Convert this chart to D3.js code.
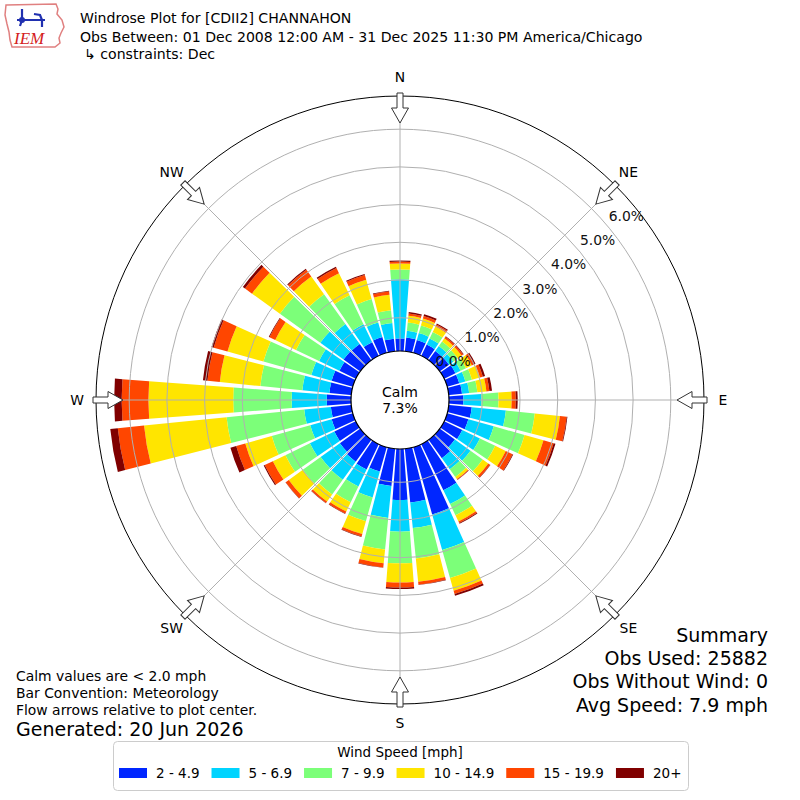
<!DOCTYPE html>
<html><head><meta charset="utf-8">
<script src="https://cdn.jsdelivr.net/npm/d3@7"></script>
<style>
body{margin:0;background:#fff}
svg{display:block}
text{font-family:"DejaVu Sans",sans-serif;fill:#000}
</style>
</head><body>
<svg id="c" width="800" height="800"></svg>
<script>
// ---------------- DATA ----------------
const directions = [0,10,20,30,40,50,60,70,80,90,100,110,120,130,140,150,160,170,
                    180,190,200,210,220,230,240,250,260,270,280,290,300,310,320,330,340,350];
const speedBins = ["2 - 4.9","5 - 6.9","7 - 9.9","10 - 14.9","15 - 19.9","20+"];
// frequency (%) per direction for each speed bin
const bin2to5   = [0.45,0.48,0.47,0.45,0.42,0.42,0.45,0.45,0.47,0.50,0.73,0.70,0.65,0.61,0.72,1.47,1.97,1.55,
                   1.47,1.11,0.79,0.86,0.83,0.78,0.75,0.70,0.66,0.76,0.70,0.70,0.60,0.66,0.65,0.52,0.55,0.45];
const bin5to7   = [1.57,0.18,0.19,0.18,0.16,0.14,0.15,0.17,0.19,0.48,0.91,0.70,0.52,0.51,0.36,0.41,0.98,0.68,
                   0.84,0.85,0.71,0.50,0.59,0.63,0.72,0.59,0.71,0.93,0.72,0.56,0.60,0.76,0.65,0.53,0.40,0.42];
const bin7to10  = [0.26,0.22,0.21,0.19,0.15,0.15,0.16,0.18,0.22,0.45,0.77,0.85,0.45,0.40,0.25,0.33,0.77,0.81,
                   0.84,0.84,0.66,0.47,0.48,0.58,0.72,1.06,2.07,1.55,1.12,1.32,0.68,1.32,0.97,0.85,0.65,0.34];
const bin10to15 = [0.16,0.18,0.19,0.16,0.10,0.12,0.17,0.22,0.24,0.35,0.67,0.52,0.31,0.18,0.07,0.18,0.35,0.62,
                   0.51,0.37,0.35,0.27,0.23,0.46,0.37,0.73,2.20,2.25,1.08,0.99,0.61,0.91,0.58,0.65,0.53,0.41];
const bin15to20 = [0.05,0.06,0.07,0.06,0.05,0.05,0.06,0.08,0.08,0.11,0.18,0.28,0.20,0.06,0.02,0.05,0.09,0.08,
                   0.13,0.11,0.07,0.06,0.05,0.10,0.24,0.25,0.70,0.71,0.33,0.38,0.17,0.23,0.22,0.15,0.13,0.09];
const bin20plus = [0.03,0.04,0.05,0.03,0.02,0.02,0.05,0.06,0.07,0.05,0.02,0.05,0.02,0.01,0.01,0.02,0.05,0.01,
                   0.04,0.01,0.01,0.01,0.01,0.01,0.03,0.16,0.20,0.20,0.12,0.06,0.02,0.07,0.03,0.04,0.03,0.02];
const binValues = [bin2to5, bin5to7, bin7to10, bin10to15, bin15to20, bin20plus];
const ringTicks = [0,1,2,3,4,5,6];
const ringTickLabels = ["0.0%","1.0%","2.0%","3.0%","4.0%","5.0%","6.0%"];
const compassLabels = ["N","NE","E","SE","S","SW","W","NW"];
const compassBearings = [0,45,90,135,180,225,270,315];
const calmPercent = "7.3%";
const titleLines = ["Windrose Plot for [CDII2] CHANNAHON",
  "Obs Between: 01 Dec 2008 12:00 AM - 31 Dec 2025 11:30 PM America/Chicago",
  "\u21B3 constraints: Dec"];
const noteLines = ["Calm values are < 2.0 mph","Bar Convention: Meteorology","Flow arrows relative to plot center."];
const generatedLine = "Generated: 20 Jun 2026";
const summaryLines = ["Summary","Obs Used: 25882","Obs Without Wind: 0","Avg Speed: 7.9 mph"];
const legendTitle = "Wind Speed [mph]";

// ---------------- STYLE ----------------
const colors = ["#0026ff","#00d4ff","#7cff79","#ffe500","#ff4600","#800000"];

// ---------------- DRAW ----------------
const svg = d3.select("#c");
const cx = 400, cy = 400;
const r = d3.scaleLinear().domain([0,6]).range([44.6,270.8]);
const frameR = 304, calmR = 49;
const toRad = d3.scaleLinear().domain([0,360]).range([0,2*Math.PI]);
const half = toRad(8.6)/2;

const g = svg.append("g").attr("transform",`translate(${cx},${cy})`);

const rows = directions.map((d,i)=>{const o={dir:d}; speedBins.forEach((b,j)=>o[b]=binValues[j][i]); return o;});
const series = d3.stack().keys(speedBins)(rows);
const arc = d3.arc();
series.forEach((s,j)=>{
  g.append("g").selectAll("path").data(s).join("path")
    .attr("d", d=>arc({innerRadius:r(d[0]), outerRadius:r(d[1]),
       startAngle:toRad(d.data.dir)-half, endAngle:toRad(d.data.dir)+half}))
    .attr("fill", colors[j]);
});

// grid on top
const grid = g.append("g").attr("fill","none").attr("stroke","#b0b0b0").attr("stroke-width",1);
grid.selectAll("circle").data(ringTicks).join("circle").attr("r", d=>r(d));
grid.selectAll("line").data(compassBearings).join("line")
  .attr("x1", d=>r(0)*Math.sin(toRad(d))).attr("y1", d=>-r(0)*Math.cos(toRad(d)))
  .attr("x2", d=>frameR*Math.sin(toRad(d))).attr("y2", d=>-frameR*Math.cos(toRad(d)));

g.append("circle").attr("r",frameR).attr("fill","none").attr("stroke","#000").attr("stroke-width",1);

// calm circle
g.append("circle").attr("r",calmR).attr("fill","#fff").attr("stroke","#000").attr("stroke-width",1.2);
g.append("text").attr("x",0).attr("y",-3).attr("text-anchor","middle").style("font-size","14px").text("Calm");
g.append("text").attr("x",0).attr("y",13).attr("text-anchor","middle").style("font-size","14px").text(calmPercent);

// ring labels
const lb = toRad(50);
g.selectAll("text.rl").data(ringTicks).join("text").attr("class","rl")
  .attr("x", d=>r(d)*Math.sin(lb)+19).attr("y", d=>-r(d)*Math.cos(lb)-10)
  .attr("text-anchor","middle").attr("dominant-baseline","central")
  .style("font-size","13.9px").style("fill","#111")
  .text((d,i)=>ringTickLabels[i]);

// compass arrows
const arrowPts = [[-3,-307],[-3,-292],[-8.5,-292],[0,-277],[8.5,-292],[3,-292],[3,-307]];
g.selectAll("polygon.ar").data(compassBearings).join("polygon").attr("class","ar")
  .attr("points", arrowPts.map(p=>p.join(",")).join(" "))
  .attr("transform", d=>`rotate(${d})`)
  .attr("fill","#fff").attr("stroke","#333").attr("stroke-width",1);
g.selectAll("text.cl").data(compassBearings).join("text").attr("class","cl")
  .attr("x", d=>323*Math.sin(toRad(d))).attr("y", d=>-323*Math.cos(toRad(d)))
  .attr("text-anchor","middle").attr("dominant-baseline","central")
  .style("font-size","13.9px")
  .text((d,i)=>compassLabels[i]);

// title
svg.selectAll("text.tt").data(titleLines).join("text").attr("class","tt")
  .attr("x",(d,i)=>i===2?84:80).attr("y",(d,i)=>[23,42,59][i]).style("font-size","14.1px").text(d=>d);

// logo
const logo = svg.append("g");
logo.append("path").attr("d","M6,5 L56,4 L58,9 L57,14 L62,20 L64,27 L61,33 L59,38 L60,43 L55,47 L12,47 L10,40 L9,32 L7,24 L5,15 Z")
  .attr("fill","#fff").attr("stroke","#e08080").attr("stroke-width",1.5);
logo.append("text").attr("x",14).attr("y",44).style("font-family","'Liberation Serif',serif").style("font-style","italic")
  .style("font-size","17px").style("fill","#d42020").text("IEM");
logo.append("path").attr("d","M22,9 L22,20 M17,20 L45,20 M34,14 L40,15 L42,20 L42,27 M22,20 L20,26")
  .attr("fill","none").attr("stroke","#2030b0").attr("stroke-width",2.2);
logo.append("circle").attr("cx",22).attr("cy",20).attr("r",3).attr("fill","#2030b0");

// notes
svg.selectAll("text.nt").data(noteLines).join("text").attr("class","nt")
  .attr("x",16).attr("y",(d,i)=>681+i*17).style("font-size","13.9px").text(d=>d);
svg.append("text").attr("x",16).attr("y",736).style("font-size","19px").text(generatedLine);

// summary
svg.selectAll("text.sm").data(summaryLines).join("text").attr("class","sm")
  .attr("x",768).attr("y",(d,i)=>641.5+i*23.4).attr("text-anchor","end").style("font-size","19px").text(d=>d);

// legend
const lg = svg.append("g");
lg.append("rect").attr("x",113.5).attr("y",741.5).attr("width",575).attr("height",49).attr("rx",4)
  .attr("fill","#fff").attr("stroke","#cccccc");
lg.append("text").attr("x",400).attr("y",757).attr("text-anchor","middle").style("font-size","13.5px").text(legendTitle);
let xpos = 119;
speedBins.forEach((b,j)=>{
  lg.append("rect").attr("x",xpos).attr("y",768).attr("width",28).attr("height",10).attr("fill",colors[j]);
  const t = lg.append("text").attr("x",xpos+37).attr("y",778).style("font-size","13.5px").text(b);
  xpos += 37 + t.node().getComputedTextLength() + 12;
});
</script>
</body></html>
